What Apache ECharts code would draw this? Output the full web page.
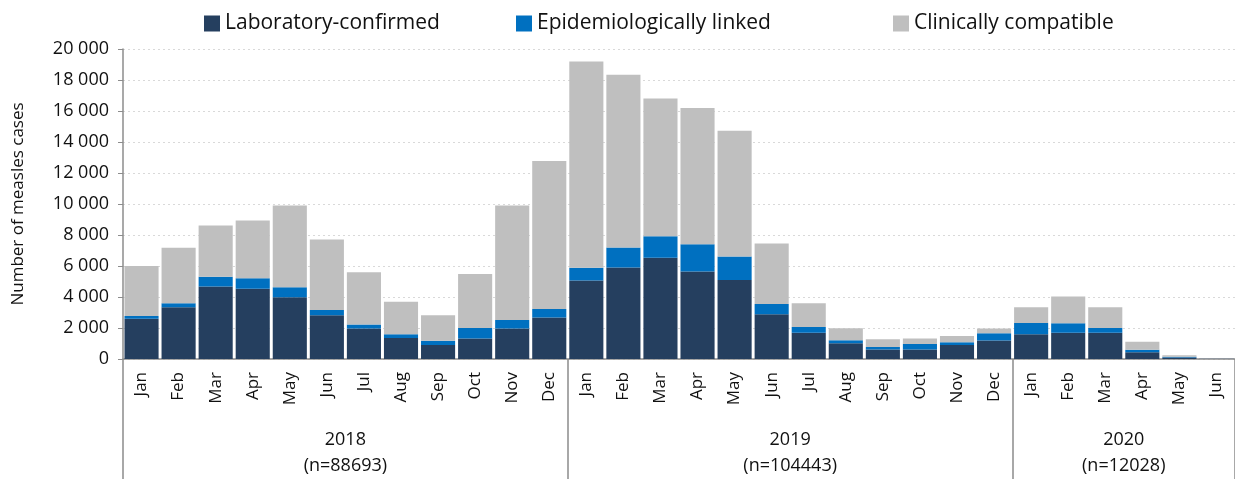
<!DOCTYPE html>
<html>
<head>
<meta charset="utf-8">
<script src="https://cdn.jsdelivr.net/npm/echarts@6/dist/echarts.min.js"></script>
<style>
  html, body { margin: 0; padding: 0; background: #fff; }
  #chart { width: 1235px; height: 479px; }
</style>
</head>
<body>
<div id="chart"></div>
<script>
const months = ['Jan', 'Feb', 'Mar', 'Apr', 'May', 'Jun', 'Jul', 'Aug', 'Sep', 'Oct', 'Nov', 'Dec',
  'Jan', 'Feb', 'Mar', 'Apr', 'May', 'Jun', 'Jul', 'Aug', 'Sep', 'Oct', 'Nov', 'Dec',
  'Jan', 'Feb', 'Mar', 'Apr', 'May', 'Jun']
const years = ['2018', '2019', '2020']
const yearCounts = ['88693', '104443', '12028']
const yearStart = [0, 12, 24]

const labConfirmed = [2600, 3340, 4670, 4540, 3980, 2820, 1960, 1360, 900, 1330, 1960, 2670,
  5060, 5900, 6540, 5640, 5100, 2880, 1700, 1010, 620, 620, 900, 1200,
  1590, 1700, 1700, 430, 100, 30]
const epiLinked = [170, 260, 630, 670, 650, 340, 260, 230, 280, 670, 560, 560,
  820, 1290, 1380, 1770, 1510, 670, 370, 200, 160, 350, 180, 460,
  740, 600, 300, 170, 50, 10]
const clinCompatible = [3230, 3570, 3310, 3720, 5270, 4550, 3380, 2110, 1640, 3490, 7380, 9540,
  13320, 11150, 8890, 8780, 8120, 3900, 1530, 770, 490, 360, 410, 300,
  1010, 1730, 1340, 520, 90, 20]

const seriesNames = ['Laboratory-confirmed', 'Epidemiologically linked', 'Clinically compatible']
const yTicks = { min: 0, max: 20000, step: 2000 }

const font = 'Open Sans'
const chart = echarts.init(document.getElementById('chart'))

function fmtThousands(v) {
  return String(v).replace(/\B(?=(\d{3})+(?!\d))/g, ' ')
}

function groupLabelIndex(i) {
  // label sits on the category just left of the group's middle, shifted by padding
  for (let g = 0; g < yearStart.length; g++) {
    const end = g + 1 < yearStart.length ? yearStart[g + 1] : months.length
    if (i === yearStart[g] + Math.floor((end - yearStart[g]) / 2) - 1) return g
  }
  return -1
}

const barStyle = (color) => ({
  type: 'bar',
  stack: 'cases',
  barCategoryGap: '8%',
  itemStyle: { color: color },
  emphasis: { disabled: true }
})

// one legend per item so the spacing follows the original
const legendLefts = [199, 511, 888]
const legends = seriesNames.map((n, k) => ({
  left: legendLefts[k],
  top: 8,
  itemWidth: 16,
  itemHeight: 16,
  icon: 'rect',
  textStyle: { fontSize: 21, color: '#111', fontFamily: font },
  data: [n]
}))

chart.setOption({
  animation: false,
  textStyle: { fontFamily: font },
  legend: legends,
  grid: { left: 123, right: -6, top: 49, bottom: 120, containLabel: false },
  xAxis: [{
    type: 'category',
    data: months,
    position: 'bottom',
    offset: 0,
    axisLine: { lineStyle: { color: '#8c8c8c', width: 1.5 } },
    axisTick: { show: false },
    axisLabel: {
      rotate: 90,
      interval: 0,
      margin: 13,
      fontSize: 17,
      color: '#111',
      fontFamily: font
    }
  }, {
    type: 'category',
    data: months,
    position: 'bottom',
    offset: 0,
    axisLine: { show: false },
    axisTick: {
      show: true,
      interval: (i) => yearStart.indexOf(i) >= 0,
      length: 122,
      lineStyle: { color: '#8c8c8c', width: 1.5 }
    },
    axisLabel: {
      interval: (i) => groupLabelIndex(i) >= 0,
      margin: 68,
      fontSize: 18,
      lineHeight: 26,
      color: '#111',
      fontFamily: font,
      align: 'center',
      padding: [0, 0, 0, 37],
      formatter: (v, i) => {
        const g = groupLabelIndex(i)
        return g >= 0 ? years[g] + '\n(n=' + yearCounts[g] + ')' : ''
      }
    }
  }],
  yAxis: {
    type: 'value',
    min: yTicks.min,
    max: yTicks.max,
    interval: yTicks.step,
    name: 'Number of measles cases',
    nameLocation: 'middle',
    nameGap: 96,
    nameTextStyle: { fontSize: 17, color: '#111', fontFamily: font },
    axisLine: { show: true, lineStyle: { color: '#8c8c8c', width: 1.5 } },
    axisTick: { show: true, length: 5, lineStyle: { color: '#8c8c8c' } },
    axisLabel: {
      fontSize: 18,
      color: '#111',
      margin: 14,
      fontFamily: font,
      formatter: fmtThousands
    },
    splitLine: { lineStyle: { color: '#d9d9d9', type: [2, 3] } }
  },
  series: [
    Object.assign(barStyle('#253f5f'), { name: seriesNames[0], data: labConfirmed }),
    Object.assign(barStyle('#0070c0'), { name: seriesNames[1], data: epiLinked }),
    Object.assign(barStyle('#bfbfbf'), { name: seriesNames[2], data: clinCompatible })
  ]
})
</script>
</body>
</html>
